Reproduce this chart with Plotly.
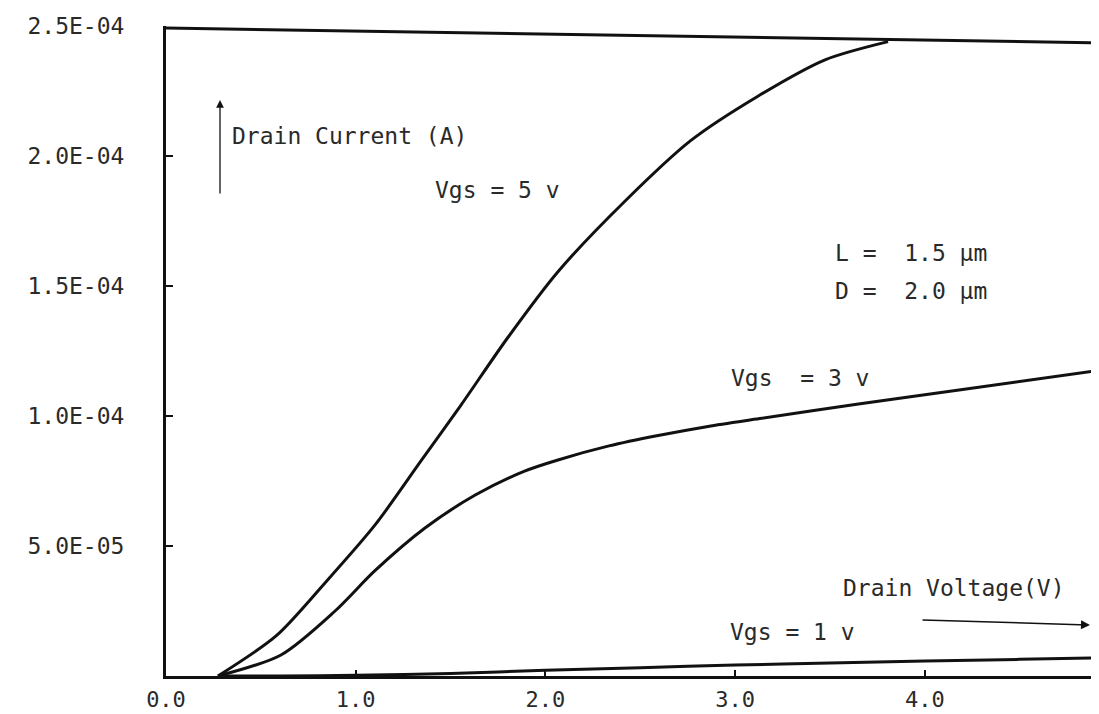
import plotly.graph_objects as go

# ---- data ----
vd_5 = [0.274, 0.58, 0.838, 1.102, 1.344, 1.555, 1.80, 2.066, 2.42, 2.767, 3.12, 3.474, 3.806]
id_5 = [0.0, 1.54e-5, 3.58e-5, 5.81e-5, 8.27e-5, 1.042e-4, 1.30e-4, 1.555e-4, 1.827e-4,
        2.06e-4, 2.23e-4, 2.37e-4, 2.44e-4]

vd_3 = [0.274, 0.606, 0.891, 1.10, 1.365, 1.63, 1.89, 2.066, 2.335, 2.594, 2.857, 3.13, 3.65, 4.18, 4.96]
id_3 = [0.0, 8.1e-6, 2.5e-5, 4.04e-5, 5.69e-5, 6.96e-5, 7.88e-5, 8.31e-5, 8.85e-5, 9.25e-5,
        9.6e-5, 9.9e-5, 1.046e-4, 1.10e-4, 1.18e-4]

vd_1 = [0.274, 0.6, 1.0, 1.5, 2.0, 2.5, 3.0, 3.5, 4.0, 4.5, 4.96]
id_1 = [0.0, 0.0, 3e-7, 1.0e-6, 2.2e-6, 3.2e-6, 4.2e-6, 5.0e-6, 5.8e-6, 6.4e-6, 7.0e-6]

x_tickvals = [0, 1, 2, 3, 4]
x_ticktext = ["0.0", "1.0", "2.0", "3.0", "4.0"]
y_tickvals = [5e-5, 1e-4, 1.5e-4, 2e-4, 2.5e-4]
y_ticktext = ["5.0E-05", "1.0E-04", "1.5E-04", "2.0E-04", "2.5E-04"]

FONT = "DejaVu Sans Mono"
TXT = "#2a2a2a"
LINE = "#111111"

fig = go.Figure()
for xs, ys in [(vd_5, id_5), (vd_3, id_3), (vd_1, id_1)]:
    fig.add_trace(go.Scatter(x=xs, y=ys, mode="lines",
                             line=dict(color=LINE, width=3, shape="spline", smoothing=0.8),
                             showlegend=False, hoverinfo="skip"))

W, H = 1099, 714
L, R, T, B = 158, 0, 18, 46
pw, ph = W - L - R, H - T - B


def px(xp):
    return (xp - L) / pw


def py(yp):
    return (H - B - yp) / ph


def label(text, x, y):
    fig.add_annotation(text=text, x=px(x), y=py(y), xref="paper", yref="paper",
                       xanchor="left", yanchor="middle", showarrow=False,
                       font=dict(family=FONT, size=23, color=TXT))


label("Drain Current (A)", 222, 128)
label("Vgs = 5 v", 425, 182)
label("L =  1.5 μm", 825, 245)
label("D =  2.0 μm", 825, 283)
label("Vgs  = 3 v", 721, 370)
label("Drain Voltage(V)", 833, 580)
label("Vgs = 1 v", 720, 624)

# arrows
fig.add_annotation(x=px(212), y=py(92), xref="paper", yref="paper", text="",
                   showarrow=True, ax=0, ay=95, arrowhead=2, arrowsize=1.2,
                   arrowwidth=1.3, arrowcolor=LINE)
fig.add_annotation(x=px(1082), y=py(617), xref="paper", yref="paper", text="",
                   showarrow=True, ax=-169, ay=-5, arrowhead=2, arrowsize=1.2,
                   arrowwidth=1.5, arrowcolor=LINE)

# top frame line (slightly skewed as in the scan)
fig.add_shape(type="line", xref="paper", yref="paper", x0=0, y0=py(20), x1=1, y1=py(35),
              line=dict(color=LINE, width=3))

fig.update_layout(
    width=W, height=H,
    margin=dict(l=L, r=R, t=T, b=B),
    paper_bgcolor="white", plot_bgcolor="white",
    font=dict(family=FONT, size=23, color=TXT),
    xaxis=dict(range=[0, 4.96], tickvals=x_tickvals, ticktext=x_ticktext,
               showgrid=False, zeroline=False, showline=True, linecolor=LINE, linewidth=3,
               ticks="inside", ticklen=6, tickwidth=2, tickcolor=LINE,
               ticklabelstandoff=2, tickfont=dict(family=FONT, size=22, color=TXT)),
    yaxis=dict(range=[0, 2.5e-4], tickvals=y_tickvals, ticktext=y_ticktext,
               showgrid=False, zeroline=False, showline=True, linecolor=LINE, linewidth=3,
               ticks="inside", ticklen=7, tickwidth=2, tickcolor=LINE,
               ticklabelstandoff=34, tickfont=dict(family=FONT, size=23, color=TXT)),
)

fig.write_html("out.html")
